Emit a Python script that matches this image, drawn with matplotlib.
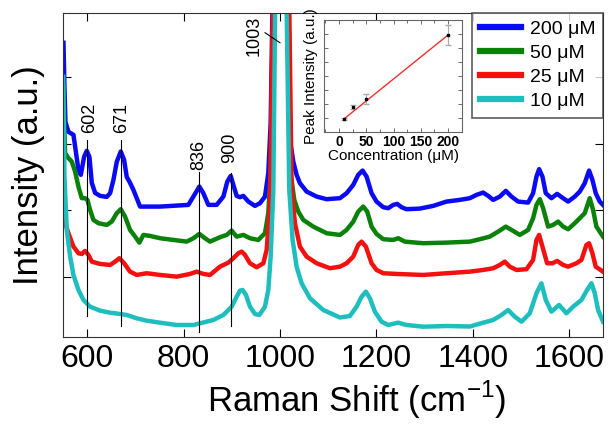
import numpy as np
import matplotlib.pyplot as plt

plt.rcParams['font.family'] = ['Liberation Sans', 'DejaVu Sans']
plt.rcParams['mathtext.fontset'] = 'custom'
plt.rcParams['mathtext.rm'] = 'Liberation Sans'

# Spectra (Raman shift in cm-1, intensity in a.u. incl. offsets)
shift_200 = [551, 553, 555, 561.3, 571.7, 582, 586.9, 593.8, 599.3, 604.8, 609.7, 616.6, 627, 640.8,
             647.7, 654.6, 661.5, 669.8, 676.7, 682.2, 689.1, 696, 704.3, 709.8, 751.3, 810, 820.4,
             832.8, 841.1, 851.4, 868.7, 882.6, 890.8, 897.8, 903.3, 910.2, 917.1, 924, 934.4, 948.2,
             958.5, 968.9, 975.8, 980.7, 984.5, 1003, 1015.2, 1020.7, 1027.6, 1034.5, 1041.4, 1055.3,
             1076, 1096.7, 1124.4, 1138.2, 1152, 1162.3, 1171.3, 1179.6, 1190, 1200.3, 1214.2, 1224.5,
             1234.9, 1243.2, 1252.1, 1262.5, 1290.1, 1317.8, 1345.4, 1373, 1393.8, 1407.6, 1421.4,
             1431.8, 1442.2, 1456, 1468.4, 1480.2, 1494, 1514.7, 1525, 1532, 1537.5, 1544.4, 1551.3,
             1563, 1574.8, 1587.2, 1597.6, 1611.4, 1621.8, 1632.1, 1641.1, 1648, 1654.9, 1663.2, 1670]
int_200 = [294, 250, 215, 205, 202, 167, 162, 180, 186, 180, 154, 144, 141, 140,
           143.7, 157, 175, 185.3, 177, 160, 154, 147, 137, 130.3, 130.3, 132, 140.3,
           150.3, 143.7, 132, 132, 140.3, 155.3, 161, 152, 141, 139.7, 141, 135.3, 131,
           133.7, 140.3, 163.7, 213.7, 330, 2000, 330, 197, 175.3, 162, 153.7, 145.3,
           140.3, 137.7, 138.7, 143.7, 152, 162, 166.3, 160.3, 143.7, 135.3, 129.7, 128.7,
           132, 133, 129.7, 127.7, 128.3, 131, 135.3, 137, 138.7, 142, 144.3,
           141, 137, 140.3, 146, 140.3, 135.3, 134.3, 143.7, 160.3, 167.7, 160.3, 143.7,
           138.7, 143, 138.7, 135.3, 140.3, 145.3, 153.7, 166.3, 157, 143.7, 135.3, 132]

shift_50 = [551, 552.5, 554.4, 561.3, 568.2, 575.1, 582, 588.9, 595.8, 600.7, 606.2, 613.1, 623.5,
            640.8, 651.1, 661.5, 669.8, 678.7, 689.1, 699.5, 708.4, 716.7, 730.6, 751.3, 778.9, 806.6,
            820.4, 832.8, 844.5, 854.9, 875.6, 889.5, 899.8, 910.2, 924, 937.8, 955.1, 968.9, 975.8,
            980.7, 986.5, 1003, 1017, 1022.1, 1029.7, 1038, 1048.3, 1069.1, 1096.7, 1124.4, 1138.2,
            1152, 1162.3, 1172.7, 1181, 1190, 1200.3, 1214.2, 1234.9, 1245.2, 1259, 1297, 1345.4,
            1393.8, 1414.5, 1435.2, 1452.5, 1468.4, 1480.2, 1497.4, 1514.7, 1525, 1532, 1538.9,
            1545.8, 1556.1, 1566.5, 1576.9, 1587.2, 1597.6, 1611.4, 1621.8, 1632.1, 1642.5, 1649.4,
            1656.3, 1670]
int_50 = [249, 215, 183.7, 178.7, 175.3, 165.3, 150.3, 138.7, 138.7, 137, 127, 117, 113.7,
          112, 115.3, 123.7, 127.7, 120.3, 107, 100.3, 94.3, 102, 101, 98.7, 97, 95.3,
          98.7, 103, 98.7, 95.3, 99.7, 102, 106.3, 100.3, 102, 98.7, 97, 103.7, 123.7,
          163.7, 330, 2000, 330, 163.7, 137, 125.3, 117, 110.3, 103.7, 102, 107,
          115.3, 125.3, 130.3, 125.3, 110.3, 103, 97.7, 97, 98.7, 95.3, 93.7, 94.3,
          95.3, 97.7, 100.3, 105.3, 110.3, 107, 102, 107, 118.7, 132, 137.7,
          128.7, 110.3, 112, 115.3, 110.3, 107.7, 113.7, 118.7, 123.7, 138.7, 127,
          110.3, 100.3]

shift_25 = [551, 554.4, 561.3, 571.7, 582, 588.9, 595.8, 602.8, 609.7, 627, 647.7, 658, 667,
            676.7, 689.1, 702.9, 723.6, 751.3, 785.8, 813.4, 827.3, 841.1, 854.9, 875.6, 892.9,
            903.3, 913.6, 920.6, 927.5, 937.8, 951.6, 965.5, 972.4, 979.3, 985.5, 1003, 1019.3,
            1024.2, 1031.1, 1041.4, 1055.3, 1076, 1103.6, 1124.4, 1138.2, 1152, 1162.3, 1169.3,
            1178.2, 1190, 1200.3, 1214.2, 1241.8, 1297, 1345.4, 1393.8, 1421.4, 1442.2, 1456,
            1466.3, 1476.7, 1490.5, 1511.2, 1525, 1532, 1537.5, 1544.4, 1554.1, 1565.1, 1574.8,
            1587.2, 1597.6, 1614.9, 1625.2, 1635.6, 1641.1, 1648, 1654.9, 1670]
int_25 = [135, 113.7, 103.7, 90.3, 83.7, 83, 86, 82, 75.3, 73, 72, 75.3, 78.7,
          73.7, 65.3, 62, 63.7, 62, 60.3, 63, 65.3, 63, 62, 70.3, 74.3,
          78.7, 83.7, 85.3, 82, 73.7, 69.7, 73.7, 87, 130.3, 330, 2000, 330,
          147, 113.7, 90.3, 80.3, 73.7, 68.7, 70.3, 73.7, 80.3, 92, 95.3,
          90.3, 73.7, 67, 63.7, 63, 62, 63.7, 65.3, 67, 68.7, 72,
          75.3, 70.3, 67, 67.7, 77, 97, 102, 90.3, 73.7, 73.7, 76,
          72, 70.3, 73.7, 77, 92, 93.7, 83.7, 70.3, 65.3]

shift_10 = [550.5, 553, 557.9, 564.8, 571.7, 582, 592.4, 606.2, 627, 647.7, 668.4, 682.2, 702.9,
            723.6, 751.3, 785.8, 820.4, 834.2, 861.8, 882.6, 899.8, 910.2, 917.1, 922.6, 929.5,
            937.8, 948.2, 957.2, 968.9, 975.8, 980.7, 986.2, 990, 1003, 1013.8, 1019.3, 1026.2,
            1034.5, 1044.9, 1062.2, 1089.8, 1124.4, 1145.1, 1158.9, 1169.3, 1178.2, 1186.5, 1196.9,
            1210.7, 1224.5, 1245.2, 1262.5, 1297, 1345.4, 1393.8, 1421.4, 1442.2, 1459.4, 1473.2,
            1487, 1500.9, 1518.1, 1532, 1542.3, 1551.3, 1563, 1578.9, 1594.1, 1608, 1625.2, 1637,
            1646, 1652.9, 1659.8, 1670]
int_10 = [260, 160, 107, 80.3, 62, 47, 37, 30.3, 26.3, 24.3, 23, 22, 18.7,
          16.3, 14.3, 12, 12, 13.7, 17, 22, 30.3, 40.3, 46.3, 47, 42,
          30.3, 23, 22, 30.3, 47, 80.3, 147, 330, 2000, 330, 147, 97,
          70.3, 53.7, 38.7, 27, 19.5, 21, 30.3, 40.3, 45.3, 38.7, 25.3,
          15.3, 12, 14.3, 12, 10.3, 11, 10.5, 14.3, 17, 22, 27,
          20.3, 15.3, 23.7, 43.7, 53.7, 37, 25.3, 32, 23.7, 30.3, 37, 47,
          53.7, 43.7, 27, 15.3]

labels = ['200 μM', '50 μM', '25 μM', '10 μM']
colors = ['#0a0af5', '#0a820a', '#f51010', '#1ebebe']

peak_names = ['602', '671', '836', '900']
peak_x = [600, 671, 833, 898]
peak_line_top = [197, 197, 165, 164]
peak_line_bottom = [21, 11, 5, 11]

# inset: peak intensity vs concentration
conc = [10, 25, 50, 200]
peak_int = [0.116, 0.223, 0.295, 0.866]
peak_err = [0.01, 0.015, 0.045, 0.085]
fit_x = [10, 200]
fit_y = [0.12, 0.866]

fig = plt.figure(figsize=(6.14, 4.28), dpi=100)
ax = fig.add_axes([0.1026, 0.2126, 0.8795, 0.7577])

for xs, ys, lab, c in zip([shift_200, shift_50, shift_25, shift_10],
                          [int_200, int_50, int_25, int_10], labels, colors):
    ax.plot(xs, ys, color=c, lw=3.2, label=lab, solid_joinstyle='round')

for name, px, top, bot in zip(peak_names, peak_x, peak_line_top, peak_line_bottom):
    ax.plot([px, px], [bot, top], color='black', lw=0.8)
ax.text(606, 219, '602', rotation=90, ha='center', va='center', fontsize=13)
ax.text(672, 219, '671', rotation=90, ha='center', va='center', fontsize=13)
ax.text(832, 182, '836', rotation=90, ha='center', va='center', fontsize=13)
ax.text(896, 189, '900', rotation=90, ha='center', va='center', fontsize=13)
ax.text(946, 301, '1003', rotation=90, ha='center', va='center', fontsize=13)
ax.plot([969, 1000], [304, 294], color='black', lw=0.8)

ax.set_xlim(550, 1670)
ax.set_ylim(0, 324)
ax.set_xticks([600, 800, 1000, 1200, 1400, 1600])
ax.set_yticks([60, 127, 193, 260])
ax.set_yticklabels([])
ax.tick_params(direction='in', top=True, right=True, length=6, width=0.8,
               labelsize=23, pad=5)
for s in ax.spines.values():
    s.set_color('#333333')
ax.set_ylabel('Intensity (a.u.)', fontsize=25, labelpad=8)
ax.set_xlabel('Raman Shift (cm$^{\\mathregular{-1}}$)', fontsize=25)
ax.xaxis.set_label_coords(0.543, -0.13)

leg = ax.legend(loc='upper right', fontsize=14, frameon=True, fancybox=False,
                borderaxespad=0, handlelength=2.1, handletextpad=0.45,
                labelspacing=0.33, borderpad=0.4)
leg.get_frame().set_edgecolor('#333333')
leg.get_frame().set_linewidth(1.2)
for h in leg.get_lines():
    h.set_linewidth(4.5)

ins = fig.add_axes([0.5277, 0.6916, 0.2248, 0.2617])
ins.errorbar(conc, peak_int, yerr=peak_err, fmt='s', color='black', ms=2,
             ecolor='#aaaaaa', elinewidth=0.8, capsize=2)
ins.plot(fit_x, fit_y, color='#f03030', lw=1)
ins.set_xlim(-27.5, 225.7)
ins.set_ylim(0, 1)
ins.set_xticks([0, 50, 100, 150, 200])
ins.set_xticks(np.arange(-25, 226, 25), minor=True)
ins.set_yticks(np.arange(0, 1.01, 0.125))
ins.set_yticklabels([])
ins.tick_params(which='both', direction='in', top=True, right=True, width=0.6,
                color='#555555', pad=2)
ins.tick_params(which='major', length=3)
ins.tick_params(which='minor', length=2)
for t in ins.get_xticklabels():
    t.set_fontsize(10)
    t.set_fontweight('bold')
for s in ins.spines.values():
    s.set_color('#666666')
    s.set_linewidth(0.8)
ins.set_xlabel('Concentration (μM)', fontsize=11, labelpad=0)
ins.set_ylabel('Peak Intensity (a.u.)', fontsize=11, labelpad=2)

fig.savefig('out.png', dpi=100)
